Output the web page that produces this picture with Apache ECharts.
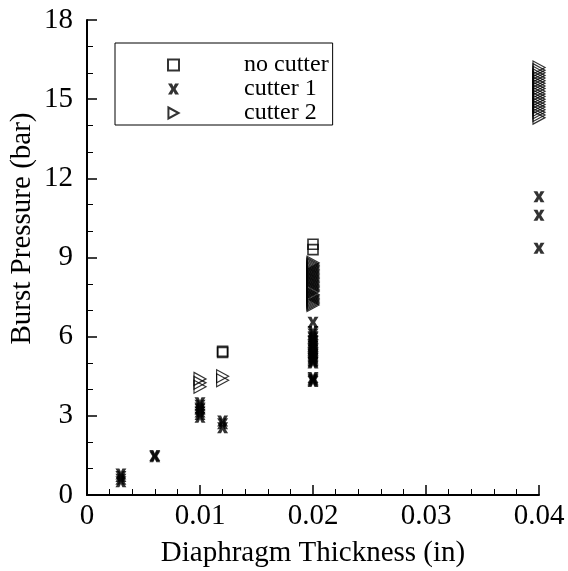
<!DOCTYPE html>
<html>
<head>
<meta charset="utf-8">
<script src="https://cdn.jsdelivr.net/npm/echarts@6/dist/echarts.min.js"></script>
<style>
  html, body { margin: 0; padding: 0; background: #fff; }
  #chart { width: 568px; height: 571px; }
</style>
</head>
<body>
<div id="chart"></div>
<script>
// Burst pressure versus diaphragm thickness, three cutter configurations.
const seriesNames = ['no cutter', 'cutter 1', 'cutter 2'];

// Diaphragm thickness (in) and burst pressure (bar) for each test
const noCutterThickness = [0.012, 0.012, 0.02, 0.02];
const noCutterPressure  = [5.4, 5.45, 9.3, 9.5];

const cutter1Thickness = [
  0.003, 0.003, 0.003, 0.003,
  0.006, 0.006,
  0.01, 0.01, 0.01, 0.01, 0.01, 0.01, 0.01,
  0.012, 0.012, 0.012,
  0.02, 0.02, 0.02, 0.02, 0.02, 0.02, 0.02, 0.02, 0.02, 0.02, 0.02, 0.02,
  0.02, 0.02, 0.02, 0.02, 0.02, 0.02, 0.02, 0.02, 0.02, 0.02, 0.02, 0.02,
  0.04, 0.04, 0.04
];
const cutter1Pressure = [
  0.5, 0.6, 0.7, 0.8,
  1.45, 1.5,
  2.95, 3.05, 3.15, 3.25, 3.3, 3.4, 3.5,
  2.55, 2.7, 2.8,
  6.55, 6.2, 6.1, 6.0, 5.95, 5.85, 5.8, 5.7, 5.65, 5.55, 5.5, 5.4,
  5.35, 5.3, 5.25, 5.2, 5.15, 5.1, 5.05, 5.0, 4.3, 4.35, 4.4, 4.45,
  11.3, 10.6, 9.35
];

const cutter2Thickness = [
  0.01, 0.01, 0.01,
  0.012, 0.012,
  0.02, 0.02, 0.02, 0.02, 0.02, 0.02, 0.02, 0.02, 0.02, 0.02, 0.02, 0.02, 0.02, 0.02, 0.02, 0.02,
  0.02, 0.02, 0.02, 0.02, 0.02, 0.02, 0.02, 0.02, 0.02, 0.02, 0.02, 0.02, 0.02, 0.02, 0.02, 0.02,
  0.04, 0.04, 0.04, 0.04, 0.04, 0.04, 0.04, 0.04, 0.04, 0.04, 0.04, 0.04, 0.04, 0.04,
  0.04, 0.04, 0.04, 0.04, 0.04, 0.04, 0.04, 0.04, 0.04, 0.04
];
const cutter2Pressure = [
  4.1, 4.25, 4.4,
  4.35, 4.5,
  7.2, 7.25, 7.3, 7.35, 7.4, 7.45, 7.5, 7.55, 7.6, 7.7, 7.75, 7.8, 7.85, 7.9, 7.95, 8.0,
  8.05, 8.1, 8.15, 8.2, 8.25, 8.3, 8.35, 8.4, 8.45, 8.5, 8.55, 8.6, 8.65, 8.7, 8.75, 8.8,
  14.3, 14.4, 14.5, 14.6, 14.7, 14.8, 14.9, 15.0, 15.1, 15.2,
  15.3, 15.4, 15.5, 15.6, 15.7, 15.8, 15.9, 16.0, 16.1, 16.2
];

const xTicks = { min: 0, max: 0.04, step: 0.01 };
const yTicks = { min: 0, max: 18, step: 3 };

function pairs(xs, ys) {
  return xs.map((x, i) => [x, ys[i]]);
}

const FONT = '"Liberation Serif", "DejaVu Serif", serif';
const crossPath = 'path://M0,0L3.6,0L5,3L6.4,0L10,0L6.9,5L10,10L6.4,10L5,7L3.6,10L0,10L3.1,5Z';
const trianglePath = 'path://M0,0L12,6.5L0,13Z';

const chart = echarts.init(document.getElementById('chart'), null, { renderer: 'canvas' });

function axis(extra, minorSplit, labelMargin) {
  return Object.assign({
    type: 'value',
    axisLine: { show: true, onZero: false, lineStyle: { color: '#000', width: 2 } },
    axisTick: { show: true, inside: true, length: 10, lineStyle: { color: '#000', width: 1.5 } },
    minorTick: { show: true, splitNumber: minorSplit, length: 6, lineStyle: { color: '#000', width: 1 } },
    splitLine: { show: false },
    axisLabel: { color: '#000', fontFamily: FONT, fontSize: 29, margin: labelMargin },
    nameLocation: 'middle',
    nameMoveOverlap: false,
    nameTextStyle: { color: '#000', fontFamily: FONT, fontSize: 29 }
  }, extra);
}

chart.setOption({
  animation: false,
  backgroundColor: '#fff',
  grid: { left: 87, right: 29, top: 20, bottom: 76, containLabel: false, outerBoundsMode: 'none' },
  xAxis: axis({
    min: xTicks.min, max: xTicks.max, interval: xTicks.step,
    name: 'Diaphragm Thickness (in)',
    nameGap: 44
  }, 5, 7),
  yAxis: axis({
    min: yTicks.min, max: yTicks.max, interval: yTicks.step,
    name: 'Burst Pressure (bar)',
    nameGap: 50,
    nameTextStyle: { color: '#000', fontFamily: FONT, fontSize: 29, padding: [0, 0, 0, 58] }
  }, 3, 14),
  legend: {
    orient: 'vertical',
    left: 115, top: 43,
    padding: [10, 4, 0, 52],
    itemGap: 0,
    itemWidth: 11, itemHeight: 11,
    backgroundColor: '#fff',
    borderColor: '#000', borderWidth: 1, borderRadius: 0,
    textStyle: { color: '#000', fontFamily: FONT, fontSize: 24, lineHeight: 23, padding: [0, 0, 0, 60] },
    data: seriesNames
  },
  series: [
    {
      name: seriesNames[0], type: 'scatter',
      symbol: 'rect', symbolSize: 10,
      itemStyle: { color: 'rgba(0,0,0,0)', borderColor: '#000', borderWidth: 1.6 },
      data: pairs(noCutterThickness, noCutterPressure)
    },
    {
      name: seriesNames[1], type: 'scatter',
      symbol: crossPath, symbolSize: [11, 11],
      itemStyle: { color: '#000' },
      data: pairs(cutter1Thickness, cutter1Pressure)
    },
    {
      name: seriesNames[2], type: 'scatter',
      symbol: trianglePath, symbolSize: [12, 13],
      itemStyle: { color: 'rgba(0,0,0,0)', borderColor: '#000', borderWidth: 1.2 },
      data: pairs(cutter2Thickness, cutter2Pressure)
    }
  ]
});
</script>
</body>
</html>
